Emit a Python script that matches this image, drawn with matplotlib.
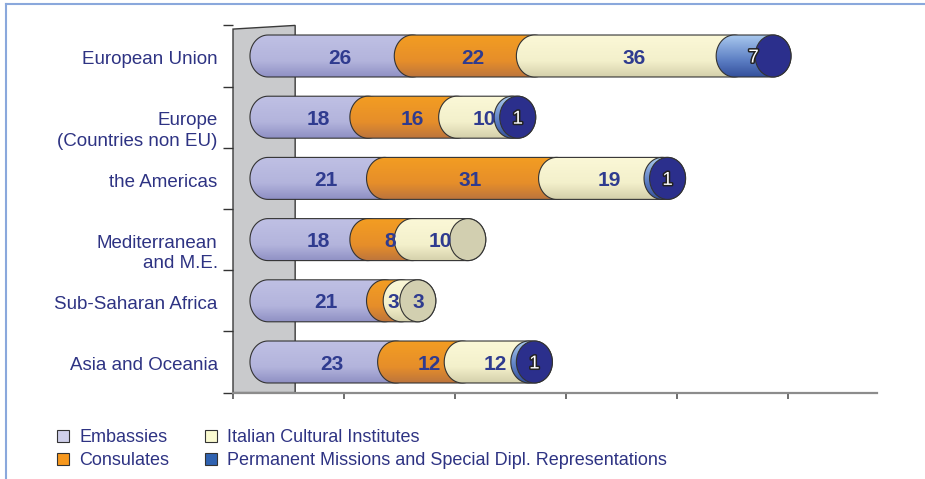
import numpy as np
import matplotlib
matplotlib.use("Agg")
import matplotlib.pyplot as plt
from matplotlib.path import Path
from matplotlib.patches import PathPatch, Polygon, Ellipse, Patch
from matplotlib.colors import LinearSegmentedColormap
from matplotlib.lines import Line2D
import matplotlib.patheffects as pe

plt.rcParams['font.family'] = ['Liberation Sans', 'DejaVu Sans']

# data
regions = ["European Union", "Europe\n(Countries non EU)", "the Americas",
           "Mediterranean\nand M.E.", "Sub-Saharan Africa", "Asia and Oceania"]
embassies = [26, 18, 21, 18, 21, 23]
consulates = [22, 16, 31, 8, 3, 12]
institutes = [36, 10, 19, 10, 3, 12]
missions = [7, 1, 1, 0, 0, 1]
series_names = ["Embassies", "Consulates", "Italian Cultural Institutes",
                "Permanent Missions and Special Dipl. Representations"]

TEXT = '#2e3383'
NUM = '#2f3b8f'
# gradient stops (bottom, mid, top), end face colour, legend colour
styles = [
    (('#8f90c4', '#b3b4dc', '#bfc0e4'), '#a3a4d2', '#cfcfea'),
    (('#bd753c', '#e68e2a', '#f39d22'), '#d08a40', '#f7981d'),
    (('#d4d0ab', '#f3f0cb', '#fbf8d7'), '#d2cfb0', '#fafad0'),
    (('#34509c', '#5a7cc2', '#a8c8ee'), '#2b2f8c', '#2f62b0'),
]

PX = 5.55          # pixels per unit
DEPTH = 6.3        # 3d offset of bars from the wall
CAP = 18 / PX      # horizontal half width of the cylinder ends
H = 0.343          # half bar height
WALL = 11.2

fig = plt.figure(figsize=(9.25, 4.79), dpi=100)
ax = fig.add_axes([233 / 925, 1 - 392.6 / 479, (877 - 233) / 925, (392.6 - 25.4) / 479])


def cyl_path(x0, x1, yc):
    t1 = np.linspace(np.pi / 2, 3 * np.pi / 2, 40)
    left = np.column_stack([x0 + CAP * np.cos(t1), yc + H * np.sin(t1)])
    t2 = np.linspace(-np.pi / 2, np.pi / 2, 40)
    right = np.column_stack([x1 + CAP * np.cos(t2), yc + H * np.sin(t2)])
    return Path(np.vstack([left, right, left[:1]]), closed=True)


grad = np.linspace(0, 1, 120).reshape(-1, 1)
cmaps = [LinearSegmentedColormap.from_list('c%d' % k, [(0, s[0][0]), (0.38, s[0][1]), (1, s[0][2])])
         for k, s in enumerate(styles)]

# wall
wall = Polygon([(0, -0.5), (0, 5.44), (WALL, 5.5), (WALL, -0.5)], closed=True,
               facecolor='#c9cacc', edgecolor='#3a3a3a', lw=1, zorder=1, clip_on=False)
ax.add_patch(wall)

n = len(regions)
data = np.array([embassies, consulates, institutes, missions])
for i in range(n):
    yc = n - 1 - i
    x = DEPTH
    z = 3
    vals = data[:, i]
    last = max(k for k in range(4) if vals[k] > 0)
    bounds = []
    for k in range(4):
        v = vals[k]
        if v <= 0:
            continue
        x1 = x + v
        path = cyl_path(x, x1, yc)
        patch = PathPatch(path, facecolor='none', edgecolor='#333333', lw=0.8, zorder=z + 0.1)
        ax.add_patch(patch)
        img = ax.imshow(grad, cmap=cmaps[k], extent=(x - CAP, x1 + CAP, yc - H, yc + H),
                        origin='lower', aspect='auto', zorder=z, interpolation='bilinear')
        img.set_clip_path(patch)
        bounds.append((k, x, x1, v))
        x = x1
        z += 1
    ax.add_patch(Ellipse((x, yc), 2 * CAP, 2 * H, facecolor=styles[last][1],
                         edgecolor='#333333', lw=0.8, zorder=z + 1))
    for k, x0, x1, v in bounds:
        lx = x1 if (k == last and v <= 3) else (x0 + x1) / 2
        if k == 3:
            ax.text(lx, yc, str(v), ha='center', va='center_baseline', fontsize=13.5,
                    color='white', zorder=50,
                    path_effects=[pe.withStroke(linewidth=2.2, foreground='#222222')])
        else:
            ax.text(lx, yc, str(v), ha='center', va='center_baseline', fontsize=15,
                    fontweight='bold', color=NUM, zorder=50)
    ax.annotate(regions[i], xy=(0, yc), xycoords=('axes fraction', 'data'),
                xytext=(-11, 3.5), textcoords='offset points', ha='right', va='top',
                fontsize=13.5, color=TEXT, linespacing=1.25, annotation_clip=False)

ax.set_xlim(0, (877 - 233) / PX)
ax.set_ylim(-0.5, n - 0.5)
ax.set_xticks(np.arange(0, 101, 20))
ax.set_yticks(np.arange(-0.5, n, 1))
ax.tick_params(axis='x', length=4.5, width=1.2, color='#555555', labelbottom=False)
ax.tick_params(axis='y', length=7.2, width=1, color='#333333', labelleft=False)
for s in ['top', 'right', 'left']:
    ax.spines[s].set_visible(False)
ax.spines['bottom'].set_color('#8c8c8c')
ax.spines['bottom'].set_linewidth(1.6)
ax.patch.set_alpha(0)

handles = [Patch(facecolor=s[2], edgecolor='#333333', lw=0.8) for s in styles]
fig.legend(handles, series_names, ncol=2, loc='upper left',
           bbox_to_anchor=(57 / 925, 1 - 429 / 479), frameon=False, fontsize=13,
           labelcolor=TEXT, handlelength=0.65, handleheight=0.65, handletextpad=0.6,
           columnspacing=1.95, labelspacing=0.34, borderpad=0, borderaxespad=0)

# frame
fig.add_artist(Line2D([6 / 925, 1], [1 - 4 / 479] * 2, color='#8aa8dc', lw=1.5))
fig.add_artist(Line2D([6 / 925] * 2, [0, 1 - 4 / 479], color='#8aa8dc', lw=1.5))

fig.savefig('out.png', dpi=100)
